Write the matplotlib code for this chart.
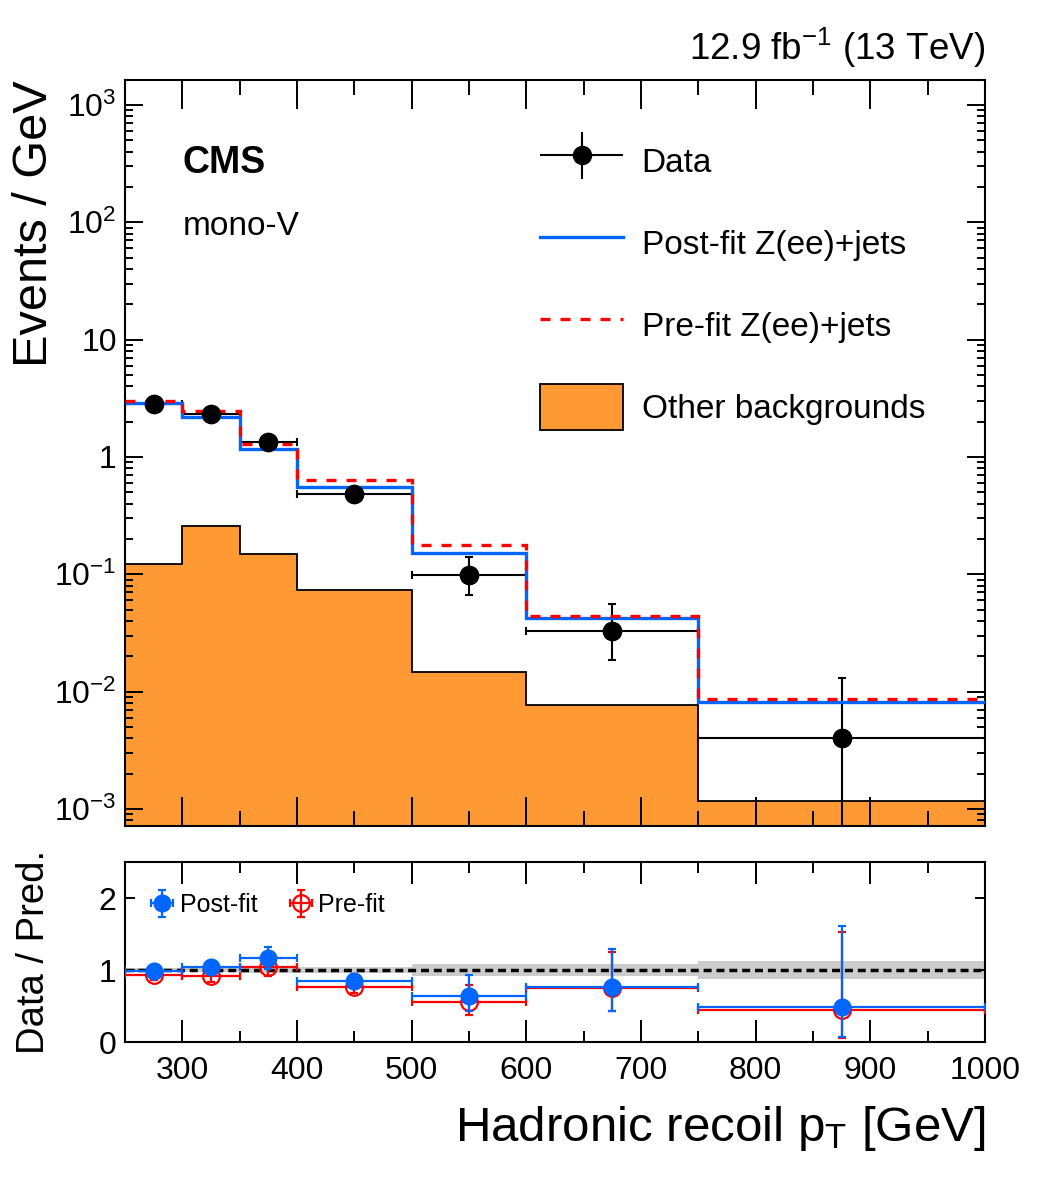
import numpy as np
import matplotlib
matplotlib.use('Agg')
from matplotlib import pyplot as plt
from matplotlib import ticker
from matplotlib.patches import Patch
from matplotlib.lines import Line2D
from matplotlib.container import ErrorbarContainer
from matplotlib.legend_handler import HandlerErrorbar

plt.rcParams['font.family']      = ['Liberation Sans', 'DejaVu Sans']
plt.rcParams['mathtext.fontset'] = 'custom'
plt.rcParams['mathtext.rm']      = 'Liberation Sans'
plt.rcParams['mathtext.it']      = 'Liberation Sans:italic'
plt.rcParams['mathtext.bf']      = 'Liberation Sans:bold'

# --- values ---------------------------------------------------------------
edges    = np.array([250, 300, 350, 400, 500, 600, 750, 1000])
data     = [2.85, 2.30, 1.35, 0.480, 0.098, 0.033, 0.0040]
data_up  = [0.24, 0.21, 0.16, 0.070, 0.043, 0.023, 0.0091]
data_dn  = [0.22, 0.20, 0.15, 0.065, 0.031, 0.0145, 0.0040]
postfit  = [2.87, 2.20, 1.16, 0.555, 0.151, 0.0428, 0.0082]
prefit   = [3.00, 2.47, 1.29, 0.630, 0.177, 0.0445, 0.0086]
other    = [0.122, 0.260, 0.148, 0.0735, 0.0147, 0.00765, 0.00116]

r_post    = [0.986, 1.04, 1.16, 0.85, 0.64, 0.77, 0.48]
r_post_up = [0.08, 0.09, 0.16, 0.10, 0.29, 0.52, 1.13]
r_post_dn = [0.08, 0.09, 0.15, 0.10, 0.21, 0.34, 0.41]
r_pre     = [0.93, 0.91, 1.04, 0.77, 0.55, 0.755, 0.45]
r_pre_up  = [0.07, 0.08, 0.14, 0.09, 0.24, 0.50, 1.08]
r_pre_dn  = [0.07, 0.08, 0.13, 0.09, 0.175, 0.33, 0.40]
band_unc  = np.array([0.03, 0.03, 0.035, 0.045, 0.08, 0.08, 0.125])

centers = 0.5 * (edges[:-1] + edges[1:])
halfw   = 0.5 * np.diff(edges)

BLUE   = '#0066ff'
RED    = '#ff0000'
ORANGE = '#ff9933'

fig = plt.figure(figsize=(10.48, 11.82), dpi=100)
ax  = fig.add_axes([0.11927, 0.30118, 0.82061, 0.63113])
rax = fig.add_axes([0.11927, 0.11844, 0.82061, 0.15228])

# --- main panel ------------------------------------------------------------
ax.set_yscale('log')
ax.stairs(other, edges, baseline=1e-6, fill=True, facecolor=ORANGE, edgecolor='k', lw=1.3, zorder=1)
eb = ax.errorbar(centers, data, xerr=halfw, yerr=[data_dn, data_up], fmt='o', color='k',
                 ms=13, lw=1.5, capsize=3, capthick=1.5, zorder=3)
ax.stairs(postfit, edges, baseline=None, color=BLUE, lw=2.4, zorder=4)
ax.stairs(prefit,  edges, baseline=None, color=RED,  lw=2.4, ls=(0, (3, 3)), zorder=4)
ax.plot(centers, data, 'o', color='k', ms=13, zorder=5)

ax.set_xlim(250, 1000)
ax.set_ylim(7.16e-4, 1.63e3)

def logfmt(v, pos):
	e = int(round(np.log10(v)))
	if e == 0: return '1'
	if e == 1: return '10'
	return r'$\mathregular{10^{%d}}$' % e

ax.yaxis.set_major_locator(ticker.LogLocator(base=10, numticks=20))
ax.yaxis.set_minor_locator(ticker.LogLocator(base=10, subs=np.arange(2, 10), numticks=20))
ax.yaxis.set_major_formatter(ticker.FuncFormatter(logfmt))
ax.yaxis.set_minor_formatter(ticker.NullFormatter())
ax.xaxis.set_major_locator(ticker.MultipleLocator(100))
ax.xaxis.set_minor_locator(ticker.MultipleLocator(50))
ax.tick_params(which='both', direction='in', top=True, right=True, labelbottom=False, labelsize=23)
ax.tick_params(axis='x', which='major', length=21, width=1.4)
ax.tick_params(axis='x', which='minor', length=11, width=1.4)
ax.tick_params(axis='y', which='major', length=13, width=1.4, pad=6)
ax.tick_params(axis='y', which='minor', length=6, width=1.4)
for s in ax.spines.values(): s.set_linewidth(1.5)

ax.set_ylabel('Events / GeV', fontsize=35, loc='top')
ax.yaxis.set_label_coords(-0.079, 1.0)

ax.text(0.0674, 0.889, 'CMS', transform=ax.transAxes, fontsize=27, fontweight='bold', va='center')
ax.text(0.0674, 0.803, 'mono-V', transform=ax.transAxes, fontsize=24, va='center')
ax.text(1.0, 1.027, r'12.9 fb$^{-1}$ (13 TeV)', transform=ax.transAxes, ha='right', va='baseline', fontsize=26.5)

data_handle = ErrorbarContainer((eb[0], (), eb[2]), has_xerr=True, has_yerr=True)
handles = [data_handle,
           Line2D([], [], color=BLUE, lw=2.4),
           Line2D([], [], color=RED, lw=2.4, ls=(0, (3, 3))),
           Patch(facecolor=ORANGE, edgecolor='k', lw=1.3)]
labels  = ['Data', 'Post-fit Z(ee)+jets', 'Pre-fit Z(ee)+jets', 'Other backgrounds']
ax.legend(handles, labels, loc='upper left', bbox_to_anchor=(0.4826, 0.9216), frameon=False,
          fontsize=24, handlelength=2.5, handleheight=1.75, labelspacing=1.07, handletextpad=0.55,
          borderpad=0, borderaxespad=0,
          handler_map={data_handle: HandlerErrorbar(xerr_size=1.25, yerr_size=0.7)})

# --- ratio panel -----------------------------------------------------------
rax.stairs(1 + band_unc, edges, baseline=1 - band_unc, fill=True, color='#cccccc', lw=0, zorder=1)
rax.axhline(1, color='k', ls=(0, (2.3, 1.4)), lw=2.5, zorder=2)
pre = rax.errorbar(centers, r_pre, xerr=halfw, yerr=[r_pre_dn, r_pre_up], fmt='o', color=RED,
                   mfc='none', mec=RED, mew=1.6, ms=12, lw=1.6, capsize=3, capthick=1.6, zorder=3)
post = rax.errorbar(centers, r_post, xerr=halfw, yerr=[r_post_dn, r_post_up], fmt='o', color=BLUE,
                    ms=12, lw=1.6, capsize=3, capthick=1.6, zorder=4)

rax.set_xlim(250, 1000)
rax.set_ylim(0, 2.5)
rax.xaxis.set_major_locator(ticker.MultipleLocator(100))
rax.xaxis.set_minor_locator(ticker.MultipleLocator(50))
rax.yaxis.set_major_locator(ticker.MultipleLocator(1))
rax.tick_params(which='both', direction='in', top=True, right=True, labelsize=23)
rax.tick_params(axis='x', which='major', length=16, width=1.4, pad=10)
rax.tick_params(axis='x', which='minor', length=8, width=1.4)
rax.tick_params(axis='y', which='major', length=7, width=1.4, pad=6)
for s in rax.spines.values(): s.set_linewidth(1.5)

rax.set_ylabel('Data / Pred.', fontsize=27.5)
rax.yaxis.set_label_coords(-0.085, 0.5)
rax.set_xlabel(r'Hadronic recoil p$_\mathregular{T}$ [GeV]', fontsize=35.5, loc='right')
rax.xaxis.set_label_coords(1.0, -0.343)

rax.legend([post, pre], ['Post-fit', 'Pre-fit'], loc='center left', bbox_to_anchor=(0.03, 0.761),
           ncol=2, frameon=False, fontsize=18, handlelength=0.9, handletextpad=0.25,
           columnspacing=1.3, borderpad=0, borderaxespad=0,
           handler_map={post: HandlerErrorbar(xerr_size=0.45, yerr_size=0.55),
                        pre:  HandlerErrorbar(xerr_size=0.45, yerr_size=0.55)})

fig.savefig('out.png', dpi=100)
